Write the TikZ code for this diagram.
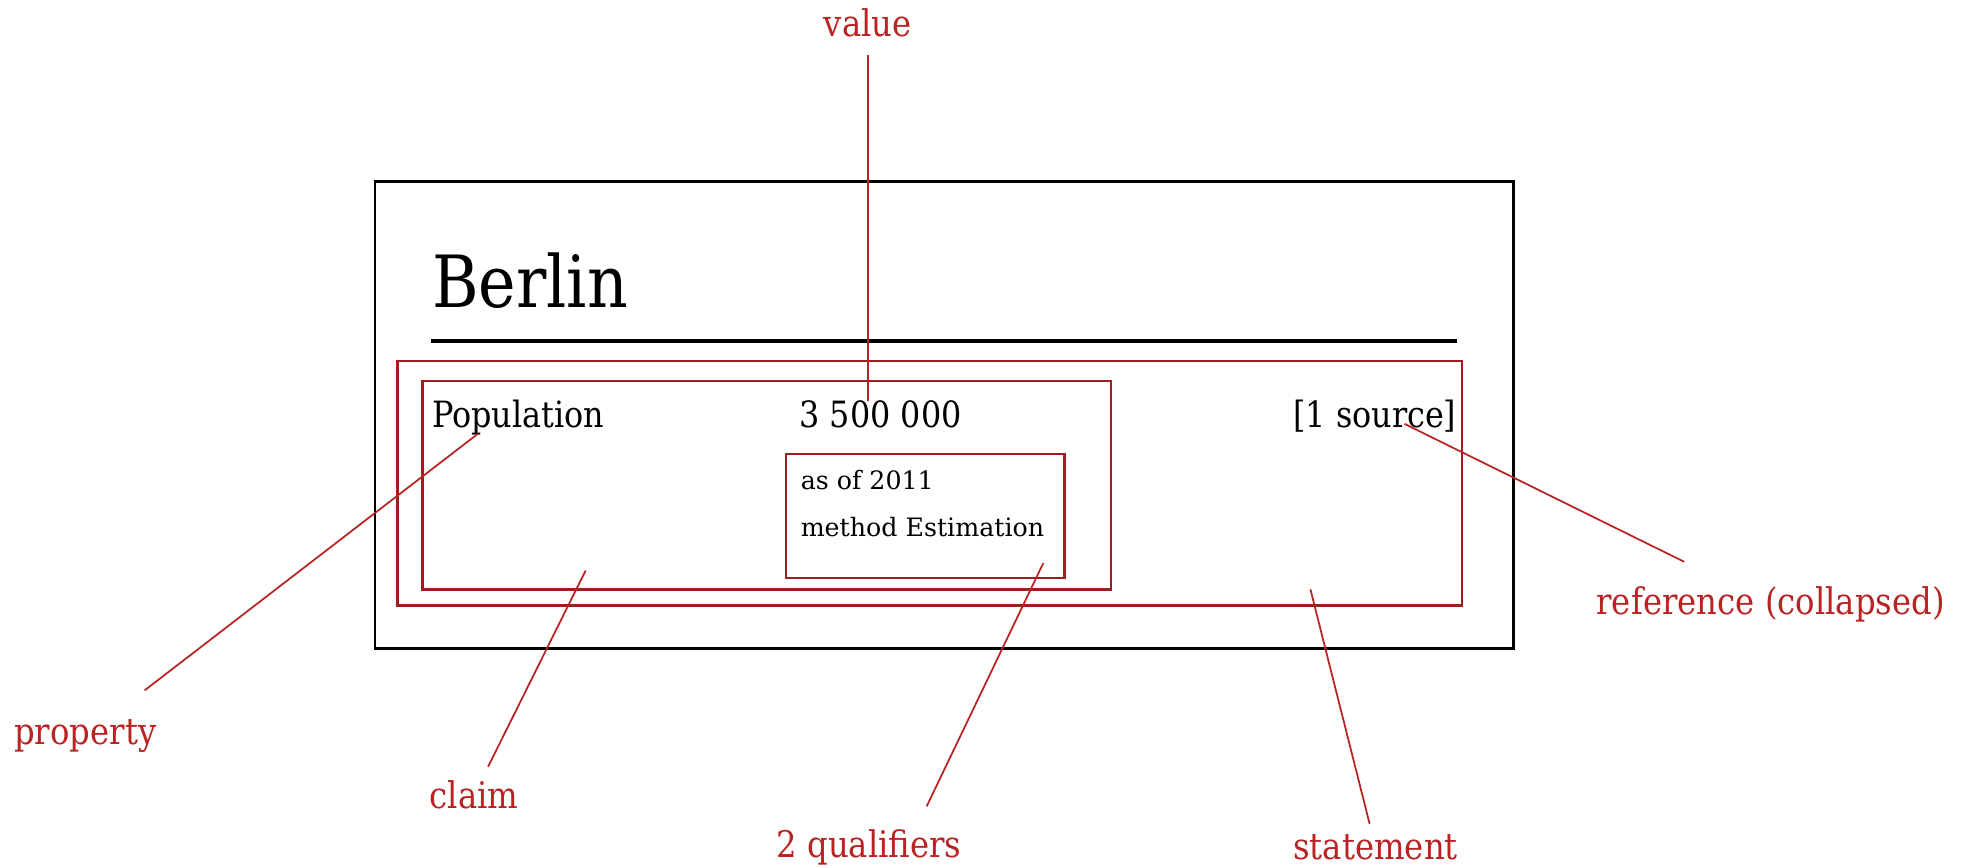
\documentclass[tikz,border=0pt]{standalone}
\usepackage{fontspec}
\setmainfont{DejaVu Serif}[FakeStretch=0.88]
\newfontfamily\qualfont{DejaVu Serif}
\definecolor{notered}{RGB}{185,35,35}
\begin{document}
\begin{tikzpicture}[x=0.01254cm,y=-0.01254cm,
    box/.style={draw=notered!85!black,line width=0.7pt},
    lead/.style={notered,line width=0.5pt},
    note/.style={text=notered,font=\fontsize{10.45}{12}\selectfont,inner sep=2pt},
    body/.style={anchor=base west,inner sep=0,font=\fontsize{10.3}{12}\selectfont}]
  \useasboundingbox (0,0) rectangle (1567,692);
  % the item card
  \draw[line width=0.8pt] (299,145) rectangle (1207,517);
  \node[anchor=base west,inner sep=0,font=\fontsize{20.5}{24}\selectfont] (berlin) at (344,245) {Berlin};
  \draw[line width=1pt] (344,272) -- (1162,272);
  \draw[box] (317,288) rectangle (1166,483);
  \draw[box] (337,304) rectangle (886,470);
  \draw[box] (627,362) rectangle (849,461);
  \node[body] (population) at (344,341) {Population};
  \node[body] (amount) at (637,341) {3 500 000};
  \node[body,anchor=base east] (sources) at (1162,341) {[1 source]};
  \node[body,font=\qualfont\fontsize{7.2}{9}\selectfont] (asof) at (638,390) {as of 2011};
  \node[body,font=\qualfont\fontsize{7.2}{9}\selectfont] (method) at (638,428) {method Estimation};
  % the notes round it
  \node[note] (value) at (692,18) {value};
  \node[note] (property) at (68,587) {property};
  \node[note] (claim) at (378,634) {claim};
  \node[note] (qualifiers) at (693,676) {2 qualifiers};
  \node[note] (statement) at (1097,676) {statement};
  \node[note] (reference) at (1412,482) {reference (collapsed)};
  \coordinate (pValue) at (692,320);
  \coordinate (pProperty) at (381,346);
  \coordinate (pClaim) at (467,455);
  \coordinate (pQualifiers) at (832,449);
  \coordinate (pStatement) at (1045,470);
  \coordinate (pReference) at (1120,338);
  \draw[lead,shorten >=3pt] (pValue) -- (value);
  \draw[lead,shorten >=10pt] (pProperty) -- (property);
  \draw[lead,shorten >=2pt] (pClaim) -- (claim);
  \draw[lead,shorten >=5pt] (pQualifiers) -- (qualifiers.27);
  \draw[lead,shorten >=1pt] (pStatement) -- (statement);
  \draw[lead,shorten >=11pt] (pReference) -- (reference);
\end{tikzpicture}
\end{document}
